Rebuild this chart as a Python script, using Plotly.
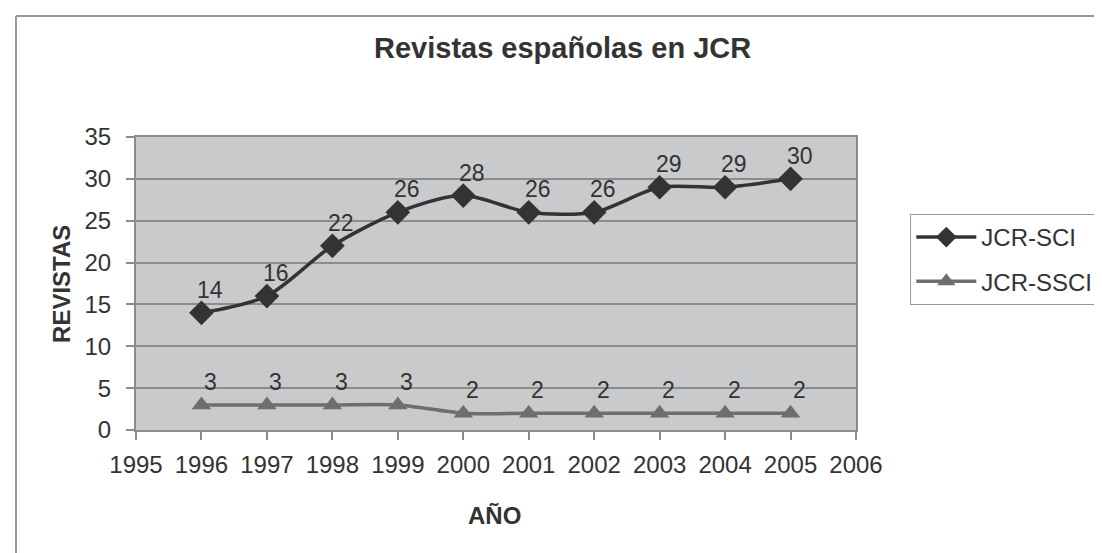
import plotly.graph_objects as go

years = [1996, 1997, 1998, 1999, 2000, 2001, 2002, 2003, 2004, 2005]
sci = [14, 16, 22, 26, 28, 26, 26, 29, 29, 30]
ssci = [3, 3, 3, 3, 2, 2, 2, 2, 2, 2]
series_names = ["JCR-SCI", "JCR-SSCI"]
x_ticks = list(range(1995, 2007))
y_ticks = list(range(0, 36, 5))

W, H = 1102, 553
L, R, T, B = 128, 857, 129, 422

def px(x):
    return (x - L) / (R - L)

def py(y):
    return (B - y) / (B - T)

FONT = "Liberation Sans, Arial, sans-serif"
TXT = "#333333"

fig = go.Figure()
fig.add_trace(go.Scatter(
    x=years, y=sci, name=series_names[0], mode="lines+markers",
    line=dict(color="#333333", width=3.5, shape="spline", smoothing=0.8),
    marker=dict(symbol="diamond", size=19, color="#333333"),
    legendgroup="a",
))
fig.add_trace(go.Scatter(
    x=years, y=ssci, name=series_names[1], mode="lines+markers",
    line=dict(color="#6e6e6e", width=3.5, shape="spline", smoothing=0.8),
    marker=dict(symbol="triangle-up", size=17, color="#6e6e6e"),
    legendgroup="b",
))

annotations = []
for series in (sci, ssci):
    for xv, yv in zip(years, series):
        annotations.append(dict(
            x=xv, y=yv, xref="x", yref="y", text=str(yv), showarrow=False,
            xshift=9, yshift=23, font=dict(family=FONT, size=23, color=TXT),
        ))

annotations += [
    dict(x=px(560), y=py(40), xref="paper", yref="paper",
         text="<b>Revistas españolas en JCR</b>", showarrow=False,
         font=dict(family=FONT, size=29, color=TXT), xanchor="center", yanchor="middle"),
    dict(x=px(491), y=py(507), xref="paper", yref="paper",
         text="<b>AÑO</b>", showarrow=False,
         font=dict(family=FONT, size=24, color=TXT), xanchor="center", yanchor="middle"),
    dict(x=px(52), y=py(276), xref="paper", yref="paper",
         text="<b>REVISTAS</b>", showarrow=False, textangle=-90,
         font=dict(family=FONT, size=24, color=TXT), xanchor="center", yanchor="middle"),
]

shapes = [
    dict(type="line", xref="paper", yref="paper", x0=px(6.5), x1=px(6.5),
         y0=py(8), y1=py(560), line=dict(color="#9a9a9a", width=2)),
    dict(type="line", xref="paper", yref="paper", x0=px(6.5), x1=px(1110),
         y0=py(8), y1=py(8), line=dict(color="#9a9a9a", width=2)),
]

fig.update_layout(
    width=W, height=H,
    margin=dict(l=L, r=W - R, t=T, b=H - B),
    paper_bgcolor="white", plot_bgcolor="#c9cacc",
    showlegend=True,
    legend=dict(
        x=px(912), y=py(206), xanchor="left", yanchor="top",
        bgcolor="white", bordercolor="#9a9a9a", borderwidth=1,
        font=dict(family=FONT, size=24, color=TXT),
        traceorder="grouped", tracegroupgap=10, itemwidth=60,
    ),
    annotations=annotations,
    shapes=shapes,
    font=dict(family=FONT, color=TXT),
)
fig.update_xaxes(
    range=[1995, 2006], tickvals=x_ticks, ticktext=[str(v) for v in x_ticks],
    showgrid=False, zeroline=False, showline=True, mirror=True,
    linecolor="#8c8c8c", linewidth=2, ticks="outside", ticklen=8,
    tickcolor="#8c8c8c", tickwidth=1.5,
    tickfont=dict(family=FONT, size=24, color=TXT), ticklabelstandoff=4,
)
fig.update_yaxes(
    range=[0, 35], tickvals=y_ticks,
    showgrid=True, gridcolor="#8c8c8c", gridwidth=1.5, zeroline=False,
    showline=True, mirror=True, linecolor="#8c8c8c", linewidth=2,
    ticks="outside", ticklen=8, tickcolor="#8c8c8c", tickwidth=1.5,
    tickfont=dict(family=FONT, size=24, color=TXT), ticklabelstandoff=10,
)

fig.write_html("out.html")
